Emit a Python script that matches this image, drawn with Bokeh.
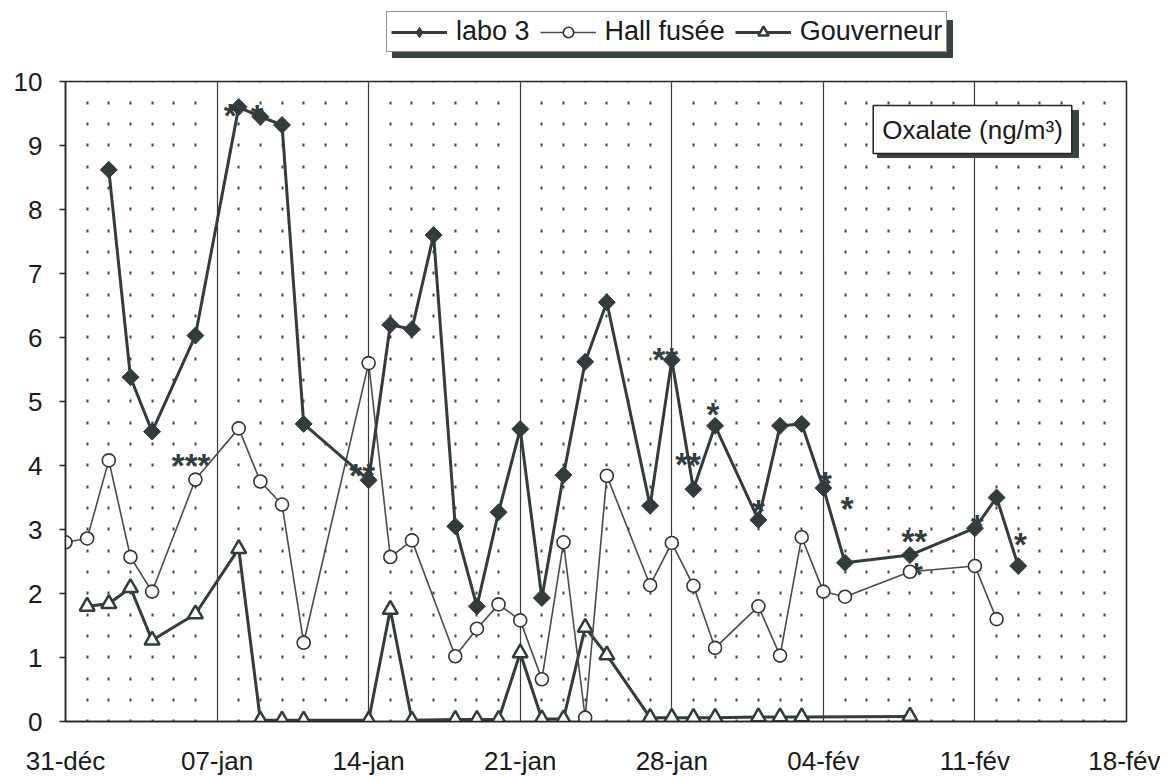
import math
from bokeh.plotting import figure
from bokeh.layouts import column
from bokeh.models import FixedTicker, Legend, LegendItem, Label, Range1d, BoxAnnotation
from bokeh.embed import file_html
from bokeh.resources import INLINE
from bokeh.core.properties import value

# ---- data (x = days since 31-déc) ----
week_days = [0, 7, 14, 21, 28, 35, 42, 49]
week_labels = ["31-déc", "07-jan", "14-jan", "21-jan", "28-jan", "04-fév", "11-fév", "18-fév"]

labo_day = [2, 3, 4, 6, 8, 9, 10, 11, 14, 15, 16, 17, 18, 19, 20, 21, 22, 23, 24, 25,
            27, 28, 29, 30, 32, 33, 34, 35, 36, 39, 42, 43, 44]
labo_val = [8.62, 5.38, 4.53, 6.03, 9.6, 9.45, 9.32, 4.65, 3.77, 6.2,
            6.13, 7.6, 3.05, 1.8, 3.27, 4.57, 1.93, 3.85, 5.62, 6.55,
            3.37, 5.65, 3.63, 4.62, 3.15, 4.62, 4.65, 3.65, 2.48, 2.6,
            3.02, 3.5, 2.43]

hall_day = [0, 1, 2, 3, 4, 6, 8, 9, 10, 11, 14, 15, 16, 18, 19, 20, 21, 22, 23, 24,
            25, 27, 28, 29, 30, 32, 33, 34, 35, 36, 39, 42, 43]
hall_val = [2.8, 2.86, 4.08, 2.57, 2.03, 3.78, 4.58, 3.75, 3.39, 1.23,
            5.6, 2.57, 2.83, 1.02, 1.45, 1.83, 1.58, 0.66, 2.8, 0.06,
            3.84, 2.13, 2.79, 2.12, 1.15, 1.8, 1.03, 2.88, 2.03, 1.95,
            2.34, 2.43, 1.6]

gouv_day = [1, 2, 3, 4, 6, 8, 9, 10, 11, 14, 15, 16, 18, 19, 20, 21, 22, 23, 24, 25,
            27, 28, 29, 30, 32, 33, 34, 39]
gouv_val = [1.8, 1.84, 2.09, 1.27, 1.68, 2.7, 0.02, 0.02, 0.02, 0.02,
            1.75, 0.02, 0.03, 0.03, 0.03, 1.07, 0.04, 0.04, 1.47, 1.04,
            0.06, 0.06, 0.06, 0.06, 0.07, 0.07, 0.07, 0.08]

ann_day = [5.8, 13.7, 27.7, 28.75, 29.9, 32.0, 35.1, 36.1, 39.2, 39.3, 42.1, 44.1, 7.6, 8.85]
ann_val = [4.08, 3.92, 5.73, 4.09, 4.87, 3.36, 3.79, 3.4, 2.89, 2.38, 3.12, 2.84, 9.55, 9.53]
ann_txt = ["***", "**", "**", "**", "*", "*", "*", "*", "**", "*", "*", "*", "*", "*"]

series_names = ["labo 3", "Hall fusée", "Gouverneur"]
y_ticks = list(range(0, 11))

DARK = "#323c3c"
SHADOW = "#3a4242"
FONT = "Liberation Sans"

# ---- styles ----
labo_line = dict(line_color=DARK, line_width=3)
labo_mark = dict(marker="square", angle=math.pi / 4, fill_color=DARK, line_color=DARK, line_width=1)
labo_mark_legend = dict(marker="diamond", fill_color=DARK, line_color=DARK, line_width=1)
hall_line = dict(line_color="#4a4a4a", line_width=1.6)
hall_mark = dict(marker="circle", fill_color="white", line_color="#333333", line_width=1.6)
gouv_line = dict(line_color=DARK, line_width=3)
gouv_mark = dict(marker="triangle", fill_color="white", line_color=DARK, line_width=2.5)

# ---- main plot ----
p = figure(width=1160, height=720, output_backend="svg", toolbar_location=None,
           x_range=Range1d(0, 49), y_range=Range1d(0, 10),
           min_border_left=65, min_border_right=34, min_border_top=23, min_border_bottom=57)
p.background_fill_color = "white"
p.border_fill_color = "white"
p.outline_line_color = "#222222"
p.outline_line_width = 1.5

p.xaxis.ticker = FixedTicker(ticks=week_days, minor_ticks=[d for d in range(50) if d % 7])
p.xaxis.major_label_overrides = {d: lab for d, lab in zip(week_days, week_labels)}
p.yaxis.ticker = FixedTicker(ticks=y_ticks)
for ax in (p.xaxis[0], p.yaxis[0]):
    ax.axis_line_color = "#222222"
    ax.axis_line_width = 1.5
    ax.major_label_text_font = FONT
    ax.major_label_text_font_size = "26px"
    ax.major_label_text_color = "#1a1a1a"
    ax.minor_tick_out = 0
    ax.minor_tick_in = 0
    ax.major_tick_in = 0
p.xaxis.major_tick_out = 0
p.xaxis.major_label_standoff = 24
p.yaxis.major_tick_out = 6
p.yaxis.major_tick_line_color = "#222222"
p.yaxis.major_tick_line_width = 1.5
p.yaxis.major_label_standoff = 17

p.ygrid.visible = False
p.xgrid.grid_line_color = "#3a3a3a"
p.xgrid.grid_line_width = 1.2
p.xgrid.minor_grid_line_color = "#444444"
p.xgrid.minor_grid_line_width = 2
p.xgrid.minor_grid_line_dash = "3 18 3 18 3 19"
p.xgrid.minor_grid_line_dash_offset = 1

p.text(x=ann_day, y=ann_val, text=ann_txt, text_font=value(FONT), text_font_style="bold",
       text_font_size="33px", text_color=DARK, text_align="center", text_baseline="middle",
       y_offset=5)

p.line(gouv_day, gouv_val, **gouv_line)
p.scatter(gouv_day, gouv_val, size=15, **gouv_mark)
p.line(hall_day, hall_val, **hall_line)
p.scatter(hall_day, hall_val, size=13, **hall_mark)
p.line(labo_day, labo_val, **labo_line)
p.scatter(labo_day, labo_val, size=12, **labo_mark)

# "Oxalate" box with a drop shadow (shadow = box annotation behind the label)
p.add_layout(BoxAnnotation(left=812, right=1013, bottom=564, top=611,
                           left_units="screen", right_units="screen",
                           bottom_units="screen", top_units="screen",
                           fill_color=SHADOW, fill_alpha=1, line_color=SHADOW, line_alpha=1))
p.add_layout(Label(x=907, y=592, x_units="screen", y_units="screen",
                   text="Oxalate (ng/m³)", text_align="center", text_baseline="middle",
                   text_font=FONT, text_font_size="26px", text_color="#1a1a1a",
                   background_fill_color="white", background_fill_alpha=1,
                   border_line_color="#222222", border_line_width=1.5, padding=9))

# ---- legend strip above the plot ----
# The series are drawn again here only as legend sources; the strip's ranges keep them off-view.
top = figure(width=1160, height=58, output_backend="svg", toolbar_location=None,
             x_axis_type=None, y_axis_type=None, x_range=Range1d(-20, -19), y_range=Range1d(0, 1),
             min_border=0, outline_line_color=None)
top.xgrid.visible = False
top.ygrid.visible = False
series = [(labo_day, labo_val, labo_line, labo_mark_legend),
          (hall_day, hall_val, hall_line, hall_mark),
          (gouv_day, gouv_val, gouv_line, gouv_mark)]
items = []
for name, (xs, ys, ls, ms) in zip(series_names, series):
    r1 = top.line(xs, ys, **ls)
    r2 = top.scatter(xs, ys, **ms)
    items.append(LegendItem(label=name, renderers=[r1, r2]))

top.add_layout(BoxAnnotation(left=327, right=887, bottom=0, top=38,
                             left_units="screen", right_units="screen",
                             bottom_units="screen", top_units="screen",
                             fill_color=SHADOW, fill_alpha=1, line_color=SHADOW, line_alpha=1))
top.add_layout(Legend(items=items, location=(321, 6), orientation="horizontal",
                      glyph_width=56, glyph_height=26, label_standoff=9, spacing=10,
                      padding=4, margin=0, label_text_font=FONT, label_text_font_size="27px",
                      label_text_color="#1a1a1a",
                      border_line_color="#222222", border_line_width=1.5,
                      background_fill_color="white", background_fill_alpha=1), "center")

layout = column(top, p, spacing=0)
open("out.html", "w").write(file_html(layout, INLINE))
